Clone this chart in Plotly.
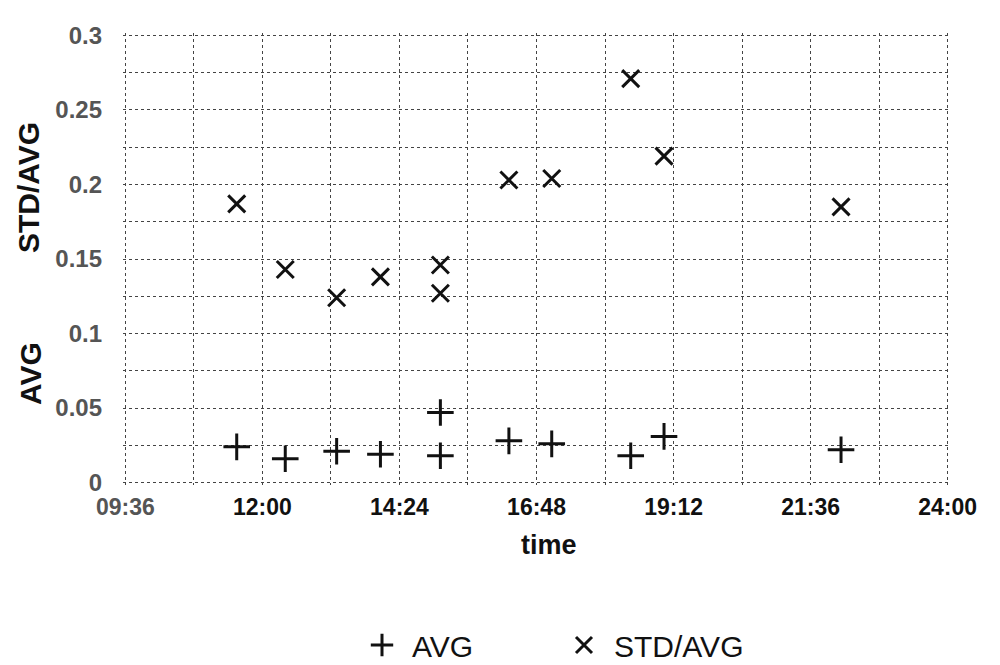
import plotly.graph_objects as go

# measurement times (HH:MM) shared by both series
times = ["11:33", "12:24", "13:18", "14:04", "15:07", "15:07",
         "16:19", "17:04", "18:27", "19:02", "22:08"]
avg = [0.024, 0.016, 0.021, 0.019, 0.018, 0.047,
       0.028, 0.026, 0.018, 0.031, 0.022]
std_avg = [0.187, 0.143, 0.124, 0.138, 0.146, 0.127,
           0.203, 0.204, 0.271, 0.219, 0.185]

x_tick_labels = ["09:36", "12:00", "14:24", "16:48", "19:12", "21:36", "24:00"]
y_tick_vals = [0, 0.05, 0.1, 0.15, 0.2, 0.25, 0.3]
y_tick_text = ["0", "0.05", "0.1", "0.15", "0.2", "0.25", "0.3"]


def to_min(s):
    h, m = s.split(":")
    return int(h) * 60 + int(m)


xm = [to_min(t) for t in times]
x_tick_vals = [to_min(t) for t in x_tick_labels]
x_tick_text = ['<b><span style="color:#555">%s</span></b>' % t if i == 0 else "<b>%s</b>" % t
               for i, t in enumerate(x_tick_labels)]
y_tick_bold = ["<b>%s</b>" % t for t in y_tick_text]

fig = go.Figure()
fig.add_trace(go.Scatter(
    x=xm, y=avg, mode="markers", name="AVG",
    marker=dict(symbol="cross-thin", size=19, color="#111",
                line=dict(width=3, color="#111")),
))
fig.add_trace(go.Scatter(
    x=xm, y=std_avg, mode="markers", name="STD/AVG",
    marker=dict(symbol="x-thin", size=17, color="#111",
                line=dict(width=3, color="#111")),
))

grid = dict(showgrid=True, gridcolor="#444", gridwidth=1, griddash="dot")

fig.update_xaxes(
    range=[x_tick_vals[0] - 2.5, x_tick_vals[-1] + 2.5],
    tickmode="array", tickvals=x_tick_vals, ticktext=x_tick_text,
    tickfont=dict(family="Liberation Sans", size=23, color="#111"),
    ticks="", ticklabelstandoff=6, zeroline=False, showline=False,
    automargin=False,
    minor=dict(tickmode="linear", tick0=x_tick_vals[0], dtick=72,
               showgrid=True, gridcolor="#444", gridwidth=1, griddash="dot"),
    **grid,
)
fig.update_yaxes(
    range=[-0.0016, 0.3016],
    tickmode="array", tickvals=y_tick_vals, ticktext=y_tick_bold,
    tickfont=dict(family="Liberation Sans", size=24, color="#555"),
    ticks="", ticklabelstandoff=20, zeroline=False, showline=False,
    automargin=False,
    minor=dict(tickmode="linear", tick0=0, dtick=0.025,
               showgrid=True, gridcolor="#444", gridwidth=1, griddash="dot"),
    **grid,
)

# page body has an 8px default margin: work in figure coordinates
OFF = 8
L, R, T, B = 123 - OFF, 950 - OFF, 33 - OFF, 485 - OFF
W = R - L
H = B - T


def px(x):
    return (x - OFF - L) / W


def py(y):
    return (B - (y - OFF)) / H


fig.add_annotation(text="<b>STD/AVG</b>", textangle=-90, showarrow=False,
                   xref="paper", yref="paper", x=px(28), y=py(188),
                   xanchor="center", yanchor="middle",
                   font=dict(family="Liberation Sans", size=30, color="#111"))
fig.add_annotation(text="<b>AVG</b>", textangle=-90, showarrow=False,
                   xref="paper", yref="paper", x=px(30), y=py(374),
                   xanchor="center", yanchor="middle",
                   font=dict(family="Liberation Sans", size=30, color="#111"))
fig.add_annotation(text="<b>time</b>", showarrow=False,
                   xref="paper", yref="paper", x=px(549), y=py(545),
                   xanchor="center", yanchor="middle",
                   font=dict(family="Liberation Sans Narrow, Liberation Sans", size=27, color="#111"))

fig.update_layout(
    width=1000, height=665,
    margin=dict(l=L, r=1000 - R, t=T, b=665 - B),
    paper_bgcolor="white", plot_bgcolor="white",
    showlegend=True,
    legend=dict(orientation="h", x=px(352), yref="container",
                y=1 - (645 - OFF) / 665,
                xanchor="left", yanchor="middle",
                font=dict(family="Liberation Sans", size=30, color="#111"),
                itemwidth=50, entrywidth=137),
)

fig.write_html("out.html")
